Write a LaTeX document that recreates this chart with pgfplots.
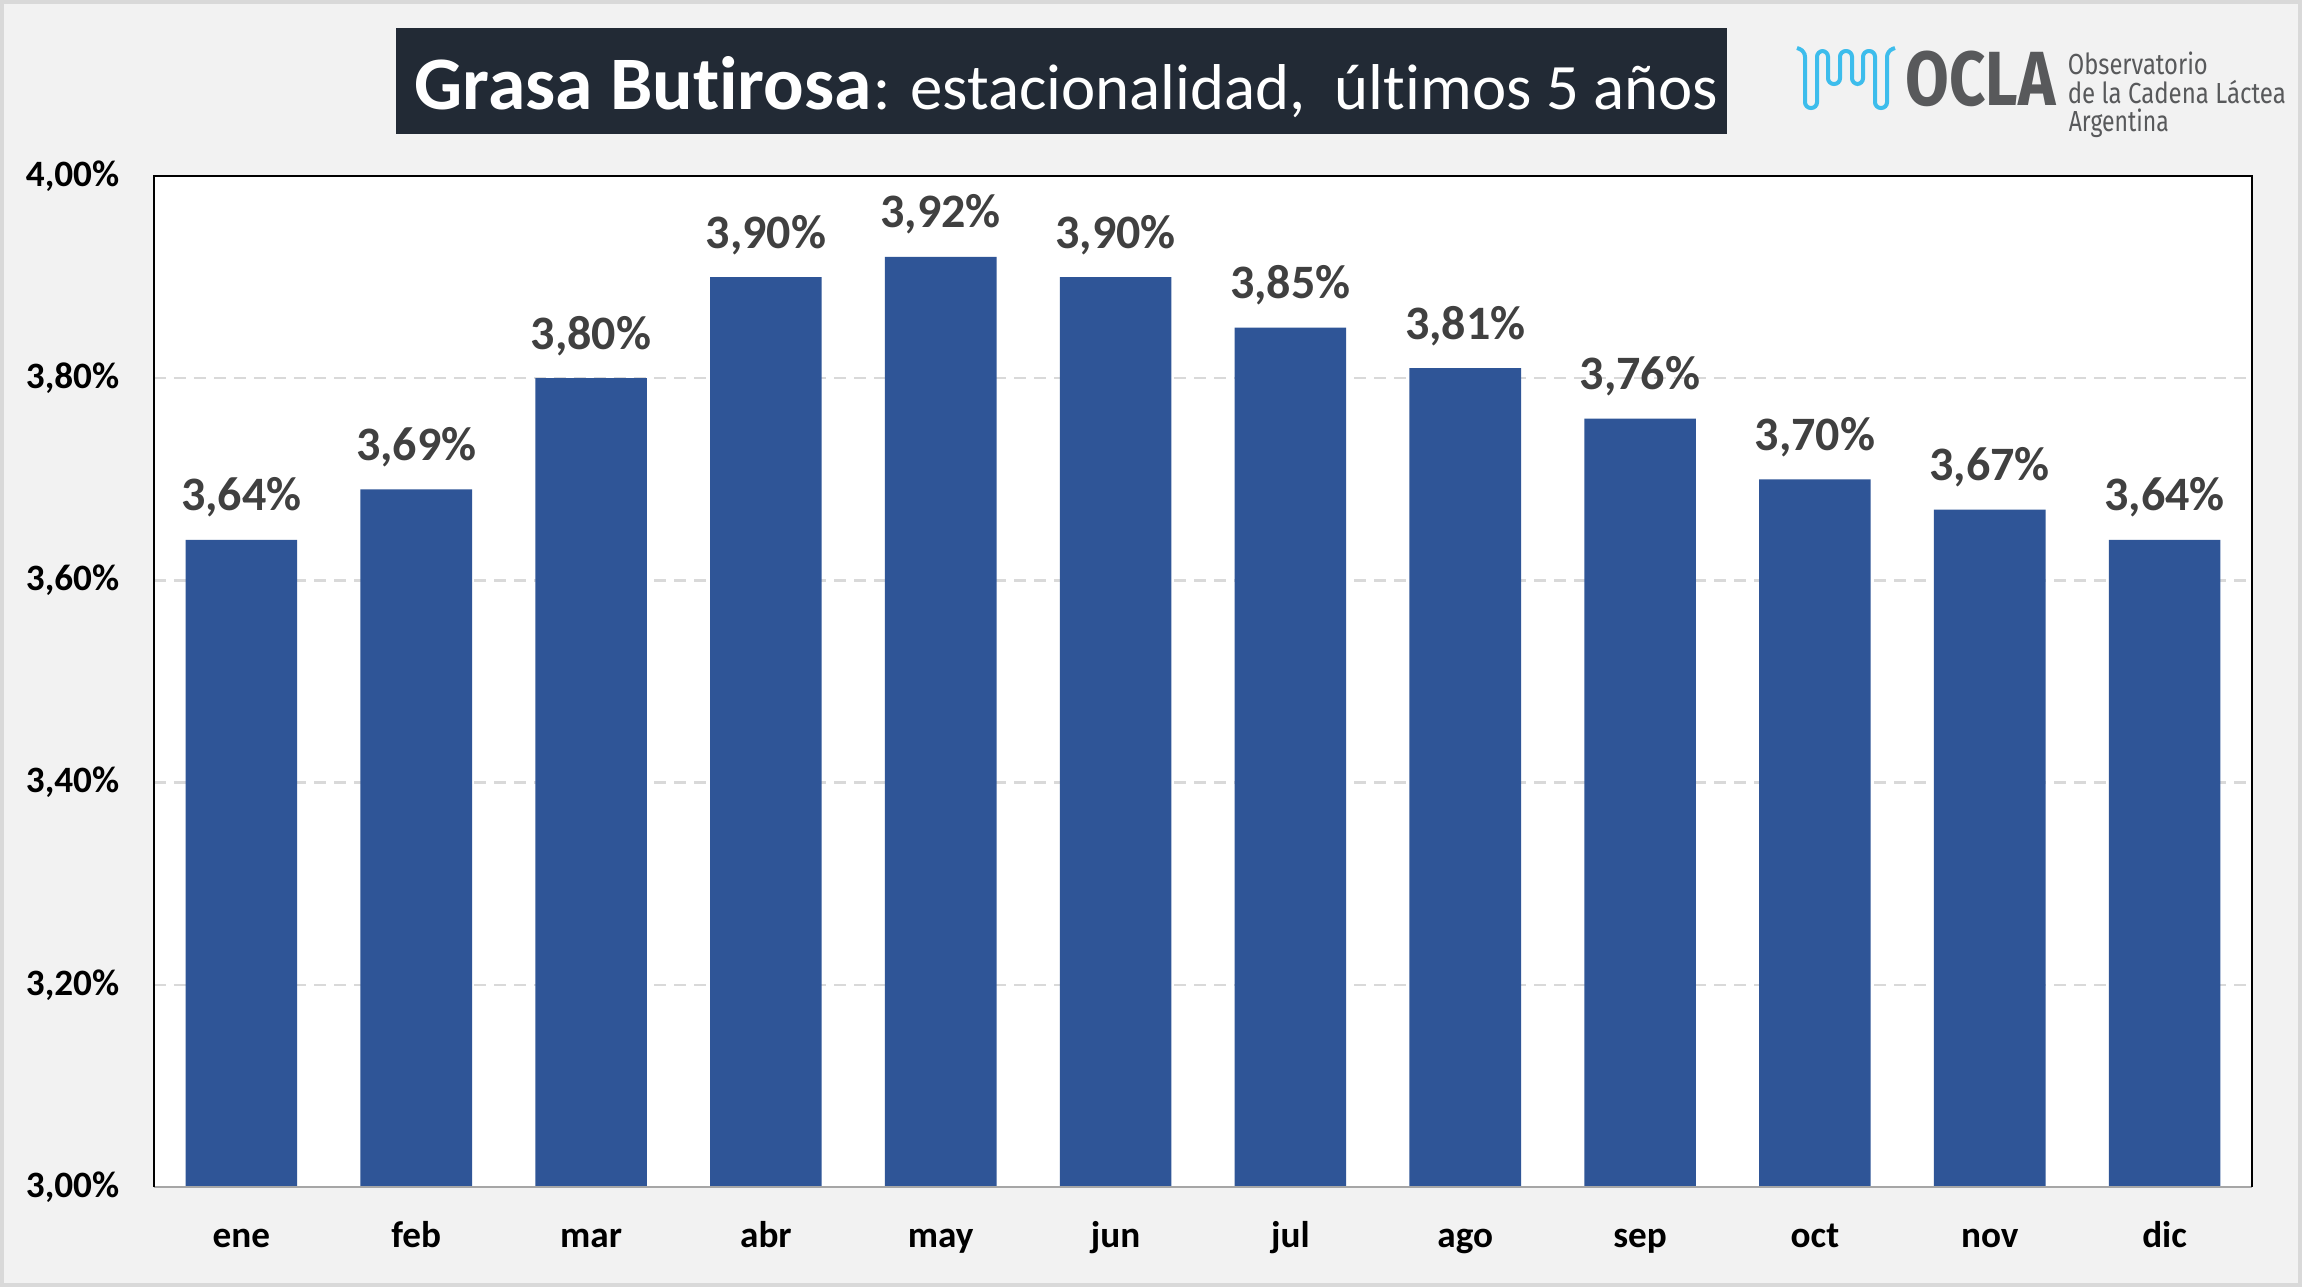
\documentclass[border=0pt]{standalone}
\usepackage{pgfplots}
\pgfplotsset{compat=1.18}
\usepackage{fontspec}
\setmainfont{Carlito}[Ligatures=NoCommon]
\newfontfamily\firafont{Fira Sans}
\definecolor{bg}{HTML}{F2F2F2}
\definecolor{brd}{HTML}{D9D9D9}
\definecolor{barblue}{HTML}{2F5597}
\definecolor{titlebg}{HTML}{222A35}
\definecolor{lbl}{HTML}{404040}
\definecolor{logogray}{HTML}{58595B}
\definecolor{logoblue}{HTML}{3DBDEC}
\definecolor{axgray}{HTML}{A6A6A6}
\begin{document}
\begin{tikzpicture}
\begin{scope}[x=0.25pt,y=-0.25pt]
\fill[bg] (0,0) rectangle (2302,1287);
\draw[brd, line width=1pt] (2,2) rectangle (2300,1285);
\fill[titlebg] (396,28) rectangle (1727,134);
\node[anchor=base west, inner sep=0pt, text=white] (tb) at (414,109) {\fontsize{18.9}{20}\selectfont\bfseries Grasa Butirosa};
\node[anchor=base west, inner sep=0pt, text=white] at (tb.base east) {\fontsize{16.2}{20}\selectfont: estacionalidad,\ \ últimos 5 años};
% logo
\draw[logoblue, line width=1pt, rounded corners=1.45pt]
  (1797,48) -- (1805,51) -- (1805,108) -- (1817,108) -- (1817,51) -- (1828,51) -- (1828,84) -- (1840,84) -- (1840,51) -- (1852,51) -- (1852,84) -- (1863,84) -- (1863,51) -- (1875,51) -- (1875,108) -- (1887,108) -- (1887,51) -- (1895,48);
\node[anchor=base west, inner sep=0pt, text=logogray] at (1905,105) {\resizebox{37.5pt}{\height}{\firafont\bfseries\fontsize{19.2}{20}\selectfont OCLA}};
\node[anchor=base west, inner sep=0pt, text=logogray] at (2067,74) {\resizebox{35pt}{\height}{\firafont\fontsize{7.25}{8}\selectfont Observatorio}};
\node[anchor=base west, inner sep=0pt, text=logogray] at (2067,103) {\resizebox{54.5pt}{\height}{\firafont\fontsize{7.25}{8}\selectfont de la Cadena Láctea}};
\node[anchor=base west, inner sep=0pt, text=logogray] at (2068,131.5) {\resizebox{25pt}{\height}{\firafont\fontsize{7.25}{8}\selectfont Argentina}};
\end{scope}
\begin{axis}[
  at={(38.5pt,-296.75pt)}, anchor=south west,
  scale only axis, width=524.5pt, height=252.75pt,
  xmin=-0.5, xmax=11.5, ymin=3, ymax=4,
  ybar, bar width=27.9pt,
  xtick={0,...,11},
  xticklabels={ene,feb,mar,abr,may,jun,jul,ago,sep,oct,nov,dic},
  ytick={3,3.2,3.4,3.6,3.8,4},
  yticklabels={{3,00\%},{3,20\%},{3,40\%},{3,60\%},{3,80\%},{4,00\%}},
  major tick length=0pt,
  axis line style={draw=none},
  axis background/.style={fill=white},
  ymajorgrids, grid style={brd, line width=0.6pt, dash pattern=on 3pt off 2pt},
  ticklabel style={font=\fontsize{9.3}{10}\selectfont\bfseries, inner sep=0pt, text=black},
  yticklabel style={anchor=east, xshift=-8.5pt},
  xticklabel style={anchor=base, yshift=-15pt},
  /pgf/number format/assume math mode=true,
  nodes near coords={\pgfmathprintnumber[fixed,fixed zerofill,precision=2,use comma]{\pgfplotspointmeta}\%},
  nodes near coords style={font=\fontsize{12}{12}\selectfont\bfseries, text=lbl, inner sep=0pt},
  nodes near coords align={anchor=base},
  every node near coord/.append style={yshift=7.25pt},
  clip=false,
]
\addplot[fill=barblue, draw=none] coordinates {(0,3.64)(1,3.69)(2,3.80)(3,3.90)(4,3.92)(5,3.90)(6,3.85)(7,3.81)(8,3.76)(9,3.70)(10,3.67)(11,3.64)};
\draw[axgray, line width=0.5pt] (rel axis cs:0,0) -- (rel axis cs:1,0);
\draw[black, line width=0.7pt] (rel axis cs:0,0) -- (rel axis cs:0,1) -- (rel axis cs:1,1) -- (rel axis cs:1,0);
\end{axis}
\pgfresetboundingbox
\path (0pt,0pt) rectangle (575.5pt,-321.75pt);
\end{tikzpicture}
\end{document}
